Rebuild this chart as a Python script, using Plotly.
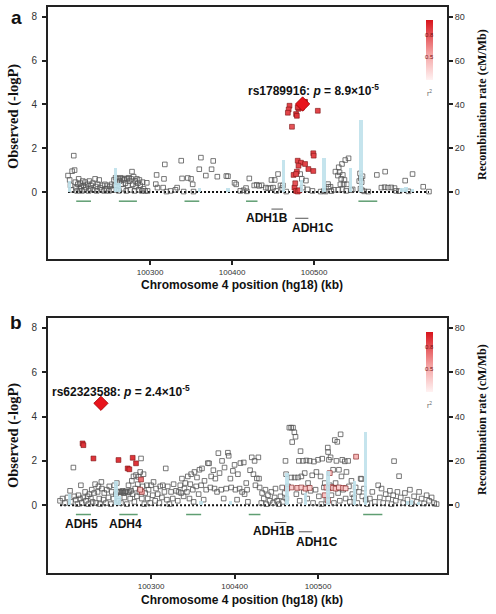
import plotly.graph_objects as go

# ---------------- shared data ----------------
recomb_kb = [100202, 100258, 100262, 100360, 100395, 100462.6, 100485, 100512, 100544, 100557, 100607, 100612, 100620]
recomb_rate = [5, 11, 4, 2, 2, 14.6, 5.5, 15.4, 11, 33, 2, 2.5, 1.5]

green_start = [100210, 100262, 100342, 100417, 100554]
green_end = [100228, 100284, 100360, 100431, 100577]
green_row = [-0.42, -0.42, -0.42, -0.42, -0.42]

adh1_names = ["ADH1B", "ADH1C"]
adh1_start = [100448, 100477]
adh1_end = [100462, 100493]
adh1_row = [-0.78, -1.2]

# ---------------- panel a ----------------
a_kb = [100200, 100202, 100203, 100204, 100205, 100207, 100208, 100209, 100210, 100211, 100212, 100213,
        100214, 100215, 100216, 100217, 100218, 100219, 100220, 100221, 100222, 100224, 100225, 100226,
        100227, 100228, 100230, 100231, 100233, 100234, 100235, 100236, 100238, 100239, 100241, 100242,
        100244, 100245, 100247, 100248, 100250, 100251, 100253, 100254,
        100256, 100257, 100258, 100259, 100260, 100261, 100262, 100263, 100264, 100265, 100266, 100267,
        100268, 100269, 100270, 100271, 100272, 100273, 100274, 100275, 100276, 100277, 100278, 100279,
        100280, 100281, 100282, 100283, 100284, 100285, 100286, 100287, 100288, 100290, 100291, 100292,
        100294, 100296, 100297,
        100307, 100308, 100309, 100316, 100317, 100318, 100320, 100325, 100331, 100333, 100338, 100339,
        100341, 100346, 100350, 100352, 100353, 100360, 100362, 100368, 100375, 100377, 100382, 100393,
        100395, 100403, 100405, 100410, 100414, 100417, 100418, 100421, 100427, 100430, 100433, 100436,
        100441, 100444, 100447, 100448, 100450, 100452, 100454, 100456, 100459, 100461, 100462, 100466,
        100483, 100485, 100490, 100486, 100492, 100498, 100508, 100512, 100517, 100517.5, 100520, 100514,
        100521, 100524, 100526, 100530, 100534, 100538, 100542, 100529, 100531, 100533, 100535, 100537,
        100532, 100536, 100540, 100529.5, 100534.5, 100539, 100545, 100547, 100556, 100557, 100558, 100555,
        100559, 100556.5, 100558.5, 100561, 100566, 100576.5, 100586.6, 100582, 100586, 100590, 100594,
        100598, 100600, 100604, 100611, 100615, 100620, 100633, 100640]
a_logp = [0.75, 0.55, 0.3, 0.1, 0.95, 1.66, 1.0, 0.45, 0.2, 0.05, 0.35, 0.6,
          0.15, 0.4, 0.25, 0.05, 0.5, 0.3, 0.1, 0.45, 0.2, 0.35, 0.05, 0.5,
          0.15, 0.3, 0.4, 0.1, 0.6, 0.25, 0.05, 0.35, 0.55, 0.2, 0.1, 0.3,
          0.05, 0.35, 0.15, 0.3, 0.05, 0.25, 0.35, 0.1,
          0.55, 0.3, 0.65, 0.1, 0.45, 0.6, 0.05, 0.5, 0.65, 0.35, 0.6, 0.15,
          0.55, 0.62, 0.4, 0.05, 0.6, 0.3, 0.65, 0.5, 0.1, 0.6, 0.93, 0.35,
          0.7, 0.05, 0.5, 0.25, 0.6, 0.4, 0.1, 0.55, 0.3, 0.05, 0.45, 0.15,
          0.05, 0.42, 0.05,
          0.36, 0.78, 0.2, 0.2, 0.6, 1.26, 0.02, 0.05, 0.1, 0.2, 1.43, 0.62,
          0.02, 0.64, 0.6, 0.35, 0.02, 1.04, 1.57, 0.75, 1.04, 1.42, 0.7, 0.73,
          0.72, 0.42, 0.35, 0.05, 0.08, 0.18, 0.03, 0.62, 0.3, 0.33, 0.28, 0.31,
          0.2, 0.17, 0.18, 0.55, 0.2, 0.55, 0.05, 0.82, 0.3, 0.18, 0.3, 0.02,
          0.82, 0.6, 0.52, 0.2, 0.12, 0.05, 0.02, 0.05, 0.36, 0.24, 0.24, 0.02,
          0.04, 0.1, 0.93, 1.13, 1.28, 1.46, 1.54, 0.75, 0.9, 0.6, 0.78, 0.55,
          0.35, 0.36, 0.35, 0.1, 0.12, 0.05, 0.08, 0.12, 0.85, 0.62, 0.45, 0.5,
          0.72, 0.15, 0.08, 0.03, 0.02, 0.78, 0.93, 0.2, 0.22, 0.2, 0.21,
          0.18, 0.05, 0.04, 0.52, 0.03, 0.82, 0.24, 0.02]

a_ld_kb = [100484, 100487, 100488, 100489, 100483, 100485, 100481, 100470, 100469, 100468, 100478, 100479,
           100480, 100504.5, 100473, 100499, 100499.5, 100480, 100484, 100489, 100493, 100499, 100479, 100475,
           100478, 100481, 100476, 100478, 100480, 100482, 100477]
a_ld_logp = [3.95, 4.05, 4.1, 4.12, 3.9, 3.85, 3.8, 3.94, 3.77, 3.62, 3.56, 3.48,
             3.87, 3.71, 2.98, 1.77, 1.66, 1.43, 1.34, 1.28, 1.05, 0.96, 0.93, 0.78,
             0.82, 1.2, 0.2, 0.05, 0.02, 0.08, 0.4]
a_ld_r2 = [0.95, 0.95, 0.95, 0.95, 0.95, 0.9, 0.9, 0.85, 0.85, 0.85, 0.9, 0.9,
           0.9, 0.85, 0.8, 0.85, 0.85, 0.85, 0.85, 0.85, 0.85, 0.85, 0.85, 0.85,
           0.85, 0.85, 0.85, 0.85, 0.85, 0.85, 0.8]
a_lead_kb = [100486]
a_lead_logp = [4.02]
a_lead_label = "rs1789916: <i>p</i> = 8.9×10<sup>-5</sup>"

# ---------------- panel b ----------------
b_kb = [100191, 100194, 100197, 100200, 100203, 100204, 100207, 100208, 100210, 100212, 100213, 100215,
        100216, 100217, 100219, 100221, 100222, 100224, 100225, 100226, 100228, 100229, 100230, 100232,
        100233, 100234, 100236, 100237, 100238, 100239, 100240.5, 100241, 100243, 100244, 100246, 100247,
        100249, 100250, 100252, 100253, 100255, 100256, 100258, 100259,
        100260, 100261, 100262, 100263, 100264, 100265, 100266, 100267, 100268, 100269, 100270, 100271,
        100272, 100273, 100274, 100275, 100276, 100277, 100278, 100279, 100280, 100281, 100282, 100283,
        100284, 100285, 100286, 100287, 100288, 100289, 100290, 100291, 100292, 100293, 100295, 100296,
        100297, 100299, 100300, 100302, 100303, 100305, 100306, 100308, 100310, 100311, 100313, 100314,
        100316, 100317.6, 100319, 100320, 100322, 100324, 100326, 100327,
        100330, 100332, 100333, 100335, 100336, 100337, 100339, 100340, 100341, 100343, 100344, 100346,
        100347, 100348, 100350, 100351, 100352, 100354, 100355, 100357, 100358, 100360, 100361, 100363,
        100364, 100366, 100368, 100369.5, 100371, 100372, 100374.6, 100376, 100377, 100379, 100380.6, 100382,
        100384, 100385, 100387, 100388, 100390, 100392, 100393, 100395, 100396, 100398, 100400, 100401,
        100403, 100404, 100406, 100407, 100409, 100411, 100412, 100414, 100415, 100416,
        100418.6, 100420.6, 100422.6, 100424, 100425, 100426.7, 100428.5, 100429.3, 100430, 100432, 100433, 100435,
        100437, 100438, 100440, 100442, 100444, 100446, 100448, 100449, 100451, 100453, 100455, 100457,
        100458, 100460, 100461, 100461.7, 100462, 100464, 100465.6, 100467.8, 100468, 100469, 100470, 100471.6,
        100473, 100472, 100474, 100476, 100477, 100479, 100478, 100480, 100482, 100483, 100484, 100486,
        100487, 100488, 100490, 100491, 100493, 100494, 100495, 100497, 100498, 100500, 100501, 100503,
        100504, 100505, 100507, 100508, 100510, 100511.6, 100512, 100513, 100514, 100515, 100516, 100518,
        100519, 100520, 100521, 100522, 100523, 100524, 100525, 100526, 100527, 100528, 100529, 100530,
        100532, 100533, 100534, 100536, 100537, 100538, 100540, 100541, 100543, 100545, 100547, 100549,
        100551, 100552, 100553, 100555, 100557, 100559, 100562, 100565, 100568, 100572, 100574, 100576,
        100578, 100581, 100584, 100586, 100588, 100590, 100591, 100593, 100595, 100597, 100599, 100602,
        100604, 100607, 100610, 100612, 100615, 100618, 100621, 100624, 100627, 100630, 100633, 100636,
        100639, 100642]
b_logp = [0.2, 0.3, 0.1, 0.35, 0.65, 0.15, 1.7, 0.4, 0.25, 0.05, 0.45, 0.3,
          0.9, 0.1, 0.35, 0.6, 0.2, 0.4, 0.05, 0.5, 0.3, 0.7, 0.15, 0.55,
          0.95, 0.1, 0.6, 0.85, 0.3, 0.05, 1.05, 0.75, 0.25, 0.55, 0.1, 0.7,
          0.35, 0.85, 0.05, 0.6, 0.3, 0.9, 0.5, 1.0,
          0.6, 0.2, 0.62, 0.58, 0.1, 0.6, 0.65, 0.55, 0.35, 0.6, 0.63, 0.05,
          0.58, 0.9, 0.6, 0.3, 0.65, 1.1, 0.5, 1.3, 0.15, 0.75, 1.36, 0.4,
          0.95, 1.28, 0.6, 1.5, 2.11, 0.3, 0.85, 1.4, 0.05, 0.55, 0.9, 0.3,
          0.7, 0.1, 0.9, 0.45, 1.05, 0.2, 0.75, 0.5, 0.1, 0.85, 0.35, 0.9,
          0.6, 1.66, 0.25, 0.85, 0.05, 0.6, 0.3, 0.95,
          0.65, 0.2, 0.6, 0.9, 0.55, 1.2, 0.4, 0.75, 1.0, 0.6, 1.3, 0.3,
          0.95, 1.4, 0.7, 0.15, 1.5, 0.85, 1.25, 0.5, 1.6, 0.9, 1.66, 0.25,
          1.1, 0.7, 1.9, 1.89, 0.8, 1.3, 1.58, 0.75, 1.2, 0.6, 2.35, 1.45,
          0.7, 2.0, 0.3, 1.7, 0.75, 2.37, 2.23, 1.2, 0.8, 1.55, 1.82, 0.7,
          0.25, 1.4, 0.75, 1.9, 0.6, 1.93, 0.5, 1.0, 0.7, 0.15,
          1.58, 2.16, 1.4, 2.0, 0.9, 1.21, 2.16, 1.2, 0.8, 0.1, 0.55, 0.3,
          0.7, 0.05, 0.45, 0.2, 0.6, 0.1, 0.35, 0.75, 0.2, 0.05, 0.4, 0.8,
          0.15, 0.55, 2.0, 1.4, 0.3, 0.85, 3.5, 3.5, 1.25, 2.85, 3.5, 3.29,
          3.09, 1.25, 0.5, 1.25, 2.0, 2.44, 0.2, 1.3, 2.0, 0.6, 1.45, 2.02,
          0.3, 1.0, 2.0, 0.65, 1.35, 0.1, 1.97, 0.7, 1.5, 2.05, 0.4, 1.3,
          0.05, 2.1, 0.8, 1.0, 0.25, 2.6, 2.4, 2.05, 0.9, 2.16, 0.45, 1.6,
          0.1, 2.94, 1.0, 2.0, 2.86, 0.55, 1.6, 0.2, 3.2, 1.3, 2.05, 0.7,
          1.98, 0.3, 1.5, 2.0, 0.85, 0.15, 1.1, 0.5, 0.35, 0.8, 0.1, 0.6,
          1.2, 1.18, 0.4, 0.75, 0.25, 0.05, 0.3, 0.6, 0.15, 0.9, 0.35, 0.75,
          0.1, 0.5, 0.3, 0.65, 0.05, 0.45, 1.99, 0.2, 0.6, 1.31, 0.35, 0.1,
          0.55, 0.25, 0.7, 0.05, 0.4, 0.15, 0.6, 0.3, 0.08, 0.45, 0.2, 0.35,
          0.1, 0.05]

b_ld_kb = [100218, 100219, 100231, 100261, 100278, 100282, 100272, 100274, 100288, 100289, 100287,
           100475, 100480, 100485, 100490, 100510, 100513, 100516, 100518, 100521, 100525, 100530, 100533,
           100508, 100512, 100545.5, 100514, 100468, 100463]
b_ld_logp = [2.79, 2.71, 2.11, 2.04, 2.14, 1.89, 1.66, 1.62, 1.16, 0.6, 0.7,
             0.78, 0.8, 0.75, 0.78, 0.8, 0.76, 0.82, 0.78, 0.75, 0.8, 0.78, 0.76,
             0.45, 0.2, 2.19, 1.45, 0.8, 0.75]
b_ld_r2 = [0.9, 0.9, 0.9, 0.9, 0.9, 0.9, 0.9, 0.9, 0.7, 0.5, 0.4,
           0.4, 0.35, 0.4, 0.35, 0.4, 0.45, 0.4, 0.35, 0.4, 0.35, 0.4, 0.35,
           0.4, 0.3, 0.45, 0.4, 0.35, 0.3]
b_lead_kb = [100240]
b_lead_logp = [4.6]
b_lead_label = "rs62323588: <i>p</i> = 2.4×10<sup>-5</sup>"

b_gene_names = ["ADH5", "ADH4"]
b_gene_label_kb = [100217, 100269.5]

# ---------------- styling ----------------
SANS = "Liberation Sans, Arial, sans-serif"
SERIF = "Liberation Serif, Times New Roman, serif"
AX = "#222222"
LD_SCALE = [[0, "#fff2f2"], [0.45, "#f4a0a0"], [1, "#d8141c"]]
GREEN = "#5f9e72"

W, H = 496, 614
ML, MR, MT, MB = 48, 49, 7, 41
PW = W - ML - MR
PH = H - MT - MB


def px_x(px):
    return (px - ML) / PW


def px_y(py):
    return (H - MB - py) / PH


fig = go.Figure()


def add_panel(xa, ya, ya2, snp_kb, snp_logp, ld_kb, ld_logp, ld_r2, lead_kb, lead_logp, cb_top):
    # recombination rate bars
    fig.add_trace(go.Bar(x=recomb_kb, y=recomb_rate, width=4, marker=dict(color="#bfe2ec", line=dict(width=0)),
                         opacity=0.9, xaxis=xa, yaxis=ya2, hoverinfo="skip", showlegend=False))
    # dotted baseline across SNP range
    allkb = snp_kb + ld_kb + lead_kb
    fig.add_trace(go.Scatter(x=[min(allkb), max(allkb)], y=[0, 0], mode="lines",
                             line=dict(color="#111", width=2, dash="2px,2px"),
                             xaxis=xa, yaxis=ya, showlegend=False, hoverinfo="skip"))
    # gene segments
    gx, gy = [], []
    for s, e, r in zip(green_start, green_end, green_row):
        gx += [s, e, None]
        gy += [r, r, None]
    fig.add_trace(go.Scatter(x=gx, y=gy, mode="lines", line=dict(color=GREEN, width=1.5),
                             xaxis=xa, yaxis=ya, showlegend=False, hoverinfo="skip"))
    hx, hy = [], []
    for s, e, r in zip(adh1_start, adh1_end, adh1_row):
        hx += [s, e, None]
        hy += [r, r, None]
    fig.add_trace(go.Scatter(x=hx, y=hy, mode="lines", line=dict(color="#555", width=1),
                             xaxis=xa, yaxis=ya, showlegend=False, hoverinfo="skip"))
    # SNPs
    fig.add_trace(go.Scatter(x=snp_kb, y=snp_logp, mode="markers",
                             marker=dict(symbol="square-open", size=4.6, color="#555555", line=dict(width=0.8)),
                             xaxis=xa, yaxis=ya, showlegend=False))
    fig.add_trace(go.Scatter(x=ld_kb, y=ld_logp, mode="markers",
                             marker=dict(symbol="square", size=4.8, color=ld_r2, colorscale=LD_SCALE,
                                         cmin=0.2, cmax=1.0, line=dict(color="#7a1010", width=0.6),
                                         showscale=True,
                                         colorbar=dict(x=px_x(426), xanchor="left", y=px_y(cb_top), yanchor="top",
                                                       lenmode="pixels", len=60, thickness=7, thicknessmode="pixels",
                                                       xpad=0, ypad=0, outlinewidth=0, showticklabels=False,
                                                       ticks="")),
                             xaxis=xa, yaxis=ya, showlegend=False))
    fig.add_trace(go.Scatter(x=lead_kb, y=lead_logp, mode="markers",
                             marker=dict(symbol="diamond", size=11, color="#e8141c", line=dict(color="#a00000", width=0.8)),
                             xaxis=xa, yaxis=ya, showlegend=False))


add_panel("x", "y", "y2", a_kb, a_logp, a_ld_kb, a_ld_logp, a_ld_r2, a_lead_kb, a_lead_logp, 20)
add_panel("x2", "y3", "y4", b_kb, b_logp, b_ld_kb, b_ld_logp, b_ld_r2, b_lead_kb, b_lead_logp, 332)

top_dom = [px_y(259), 1.0]
bot_dom = [0.0, px_y(318)]

xcommon = dict(showline=True, linecolor=AX, linewidth=2, mirror=True, ticks="outside", ticklen=4,
               tickwidth=1.5, tickcolor=AX, tickfont=dict(family=SANS, size=8, color="#333"),
               showgrid=False, zeroline=False, tickvals=[100300, 100400, 100500],
               ticktext=["100300", "100400", "100500"], automargin=False)
ycommon = dict(showline=True, linecolor=AX, linewidth=2, mirror=True, ticks="outside", ticklen=4,
               tickwidth=1.5, tickcolor=AX, tickfont=dict(family=SANS, size=10, color="#333"),
               showgrid=False, zeroline=False, range=[-3.06, 8.45], tickvals=[0, 2, 4, 6, 8],
               ticklabelstandoff=3, automargin=False)
y2common = dict(showline=True, linecolor=AX, linewidth=2, side="right", ticks="outside", ticklen=4,
                tickwidth=1.5, tickcolor=AX, tickfont=dict(family=SANS, size=9, color="#333"),
                showgrid=False, zeroline=False, range=[-30.6, 84.5], tickvals=[0, 20, 40, 60, 80],
                automargin=False)

fig.update_layout(
    width=W, height=H, margin=dict(l=ML, r=MR, t=MT, b=MB, autoexpand=False),
    paper_bgcolor="white", plot_bgcolor="white", bargap=0,
    xaxis=dict(**xcommon, domain=[0, 1], anchor="y", range=[100175.6, 100662]),
    yaxis=dict(**ycommon, domain=top_dom, anchor="x"),
    yaxis2=dict(**y2common, overlaying="y", anchor="x"),
    xaxis2=dict(**xcommon, domain=[0, 1], anchor="y3", range=[100176.6, 100654.4]),
    yaxis3=dict(**ycommon, domain=bot_dom, anchor="x2"),
    yaxis4=dict(**y2common, overlaying="y3", anchor="x2"),
)

ann = []
bold12 = dict(family=SANS, size=12, color="#111")


def A(**kw):
    d = dict(showarrow=False, xanchor="center", yanchor="middle")
    d.update(kw)
    ann.append(d)


# lead SNP labels
A(x=100417, y=4.66, xref="x", yref="y", text="<b>" + a_lead_label + "</b>", xanchor="left", font=bold12)
A(x=100179, y=5.16, xref="x2", yref="y3", text="<b>" + b_lead_label + "</b>", xanchor="left", font=bold12)
# gene labels
A(x=100443, y=-1.19, xref="x", yref="y", text="<b>ADH1B</b>", font=bold12)
A(x=100499, y=-1.63, xref="x", yref="y", text="<b>ADH1C</b>", font=bold12)
A(x=100447, y=-1.18, xref="x2", yref="y3", text="<b>ADH1B</b>", font=bold12)
A(x=100499, y=-1.66, xref="x2", yref="y3", text="<b>ADH1C</b>", font=bold12)
for nm, k in zip(b_gene_names, b_gene_label_kb):
    A(x=k, y=-0.86, xref="x2", yref="y3", text="<b>" + nm + "</b>", font=bold12)

# axis titles and panel letters
for py_l, py_r, py_b, lab, py_lab in [(117, 105, 285, "a", 17), (436, 420, 600, "b", 322)]:
    A(x=px_x(13), y=px_y(py_l), xref="paper", yref="paper", text="<b>Observed (-logP)</b>",
      textangle=-90, font=dict(family=SERIF, size=14.5, color="#111"))
    A(x=px_x(482), y=px_y(py_r), xref="paper", yref="paper", text="<b>Recombination rate (cM/Mb)</b>",
      textangle=-90, font=dict(family=SERIF, size=12, color="#111"))
    A(x=px_x(242), y=px_y(py_b), xref="paper", yref="paper",
      text="<b>Chromosome 4 position (hg18) (kb)</b>", font=dict(family=SANS, size=12, color="#111"))
    A(x=px_x(16), y=px_y(py_lab), xref="paper", yref="paper", text="<b>" + lab + "</b>",
      font=dict(family=SANS, size=19, color="#111"))

# colour legend labels
for top in [20, 332]:
    A(x=px_x(429.5), y=px_y(top + 15), xref="paper", yref="paper", text="0.8",
      font=dict(family=SANS, size=6, color="#7a1010"))
    A(x=px_x(429.5), y=px_y(top + 37), xref="paper", yref="paper", text="0.5",
      font=dict(family=SANS, size=6, color="#7a1010"))
    A(x=px_x(429.5), y=px_y(top + 73), xref="paper", yref="paper", text="r<sup>2</sup>",
      font=dict(family=SANS, size=7, color="#666"))

fig.update_layout(annotations=ann)
fig.write_html("out.html", config={"displayModeBar": False},
               post_script="document.body.style.margin='0';document.body.style.overflow='hidden';")
